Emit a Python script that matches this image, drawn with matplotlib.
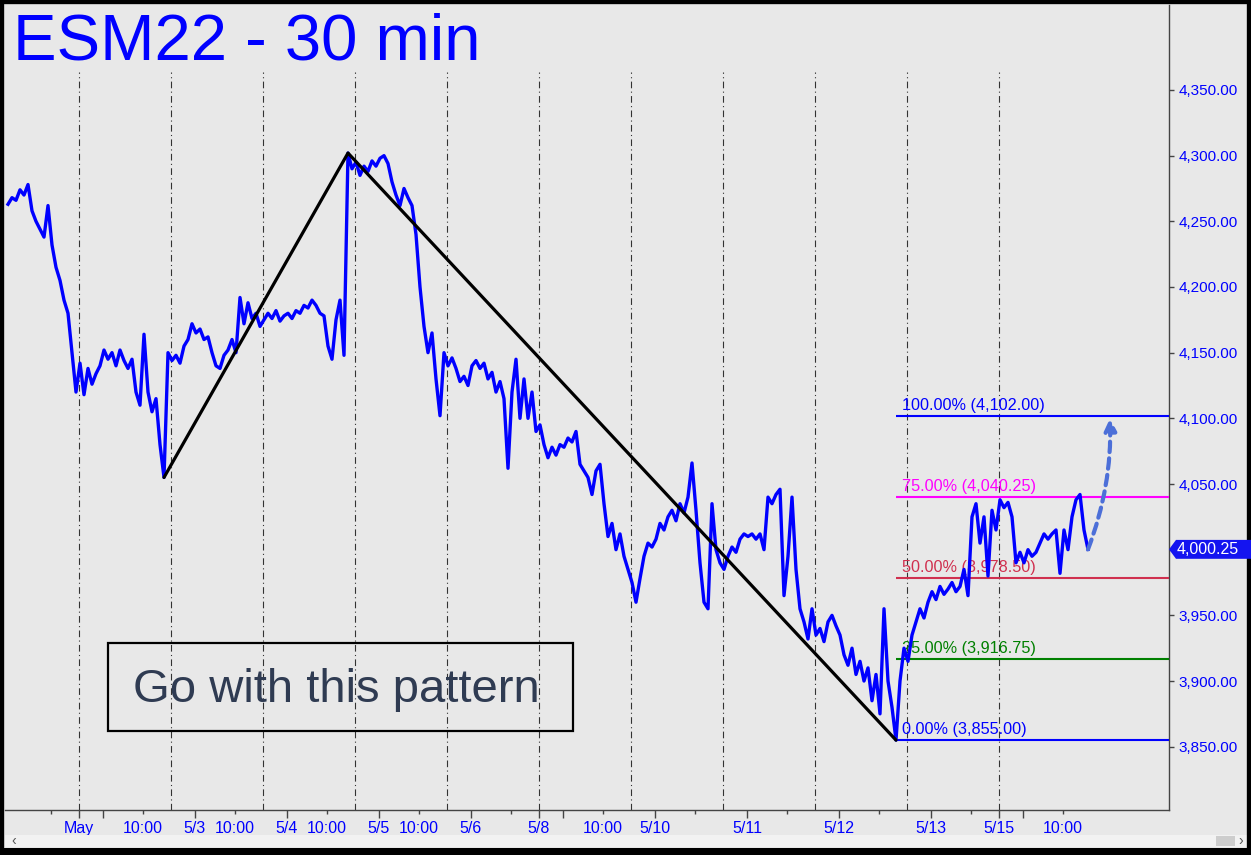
"""ESM22 30-minute chart with ABCD pattern and Fibonacci targets."""

import matplotlib.pyplot as plt
from matplotlib.patches import Polygon, Rectangle
from matplotlib.transforms import blended_transform_factory

plt.rcParams["font.family"] = ["Liberation Sans", "DejaVu Sans"]

BG = "#e8e8e8"
BLUE = "#0000ff"

# hourly closes (one value every two 30-min bars)
closes = [
    4263, 4268, 4266, 4274, 4270, 4278, 4258, 4250, 4244, 4238,
    4262, 4232, 4215, 4205, 4190, 4180, 4150, 4120, 4142, 4118,
    4138, 4126, 4134, 4140, 4152, 4145, 4150, 4140, 4152, 4144,
    4138, 4145, 4120, 4110, 4164, 4120, 4105, 4115, 4080, 4055,
    4150, 4144, 4148, 4142, 4155, 4160, 4172, 4165, 4168, 4160,
    4162, 4150, 4140, 4138, 4148, 4152, 4160, 4150, 4192, 4172,
    4188, 4176, 4180, 4170, 4175, 4180, 4176, 4182, 4174, 4178,
    4180, 4176, 4182, 4180, 4186, 4184, 4190, 4186, 4180, 4178,
    4155, 4145, 4175, 4190, 4148, 4302, 4290, 4295, 4285, 4292,
    4288, 4296, 4292, 4298, 4300, 4294, 4280, 4270, 4262, 4275,
    4268, 4262, 4240, 4200, 4170, 4150, 4165, 4130, 4102, 4150,
    4140, 4146, 4138, 4128, 4132, 4125, 4140, 4144, 4138, 4142,
    4130, 4135, 4120, 4128, 4115, 4062, 4120, 4145, 4100, 4130,
    4100, 4120, 4090, 4095, 4080, 4070, 4078, 4072, 4080, 4078,
    4085, 4082, 4090, 4065, 4060, 4055, 4042, 4060, 4065, 4035,
    4010, 4020, 4000, 4012, 3995, 3985, 3975, 3960, 3978, 3995,
    4005, 4002, 4008, 4020, 4015, 4025, 4030, 4022, 4035, 4028,
    4040, 4066, 4030, 3990, 3960, 3955, 4035, 4000, 3990, 3985,
    3995, 4002, 3998, 4008, 4012, 4010, 4012, 4008, 4012, 4000,
    4040, 4035, 4042, 4046, 3965, 3995, 4040, 3985, 3955, 3945,
    3932, 3955, 3935, 3940, 3930, 3945, 3950, 3942, 3935, 3920,
    3912, 3925, 3905, 3915, 3900, 3910, 3885, 3905, 3875, 3955,
    3900, 3880, 3855, 3900, 3925, 3915, 3935, 3945, 3955, 3948,
    3960, 3968, 3962, 3972, 3966, 3970, 3975, 3968, 3972, 3985,
    3965, 4025, 4035, 4005, 4025, 3980, 4030, 4015, 4038, 4032,
    4036, 4025, 3990, 3998, 3990, 4000, 3995, 3998, 4005, 4012,
    4008, 4012, 4015, 3982, 4015, 4000, 4025, 4038, 4042, 4015,
    4000.25,
]

# ABCD swing points (bar index, price)
swing_bars = [78, 170, 444]
swing_prices = [4055.0, 4302.0, 3855.0]

fib_pcts = ["0.00%", "25.00%", "50.00%", "75.00%", "100.00%"]
fib_levels = [3855.00, 3916.75, 3978.50, 4040.25, 4102.00]
fib_colors = ["#0000ff", "#008000", "#d0304f", "#ff00ff", "#0000ff"]

price_ticks = [3850, 3900, 3950, 4000, 4050, 4100, 4150, 4200, 4250, 4300, 4350]
last_price = 4000.25
target_price = 4100

# date labels: session number, hours after the 18:00 open, text
label_session = [0, 0, 1, 1, 2, 2, 3, 3, 4, 5, 5, 6, 7, 8, 9, 10, 10]
label_hours = [0, 16, 6, 16, 6, 16, 6, 16, 6, 0, 16, 6, 6, 6, 6, 0, 16]
label_text = ["May", "10:00", "5/3", "10:00", "5/4", "10:00", "5/5", "10:00",
              "5/6", "5/8", "10:00", "5/10", "5/11", "5/12", "5/13", "5/15", "10:00"]
n_sessions = 11

BARS_PER_SESSION = 46
FIRST_OPEN = 35.5


def bar_of(session, hours):
    return FIRST_OPEN + BARS_PER_SESSION * session + 2 * hours


bars = [2 * i for i in range(len(closes))]

fig = plt.figure(figsize=(12.51, 8.55), dpi=100, facecolor=BG)
ax = fig.add_axes([5 / 1251, 45 / 855, 1164 / 1251, 805 / 855], facecolor=BG)
ax.set_xlim(-1.5, 580.5)
ax.set_ylim(3801.8, 4414.7)

# session separators
for k in range(n_sessions):
    ax.axvline(bar_of(k, 0), ymax=0.917, color="#333333", lw=0.8,
               ls=(0, (6, 3, 1, 3)), zorder=1)

# price
ax.plot(bars, closes, color=BLUE, lw=2.4, zorder=5)

# ABCD pattern
ax.plot(swing_bars, swing_prices, color="black", lw=2.3, zorder=6,
        solid_capstyle="round")

# fib targets
for pct, lvl, col in zip(fib_pcts, fib_levels, fib_colors):
    ax.hlines(lvl, swing_bars[-1], 580.5, color=col, lw=1.5, zorder=3)
    ax.annotate(f"{pct} ({lvl:,.2f})", xy=(swing_bars[-1] + 3, lvl),
                xytext=(0, 2), textcoords="offset points", color=col,
                fontsize=11.7, va="bottom", ha="left", zorder=2)

# projected move
ax.annotate("", xy=(bars[-1] + 11, target_price), xytext=(bars[-1], last_price),
            arrowprops=dict(arrowstyle="-|>,head_length=0.7,head_width=0.35",
                            color="#4c6fd8", lw=3, linestyle=(0, (2.5, 1.5)),
                            connectionstyle="arc3,rad=0.1",
                            shrinkA=0, shrinkB=0),
            zorder=7)

# right price axis (the last-price tag hides the 4,000 label)
ax.yaxis.tick_right()
ax.set_yticks(price_ticks)
ax.set_yticklabels(["" if p == 4000 else f"{p:,.2f}" for p in price_ticks])
ax.tick_params(axis="y", colors="#444444", labelcolor=BLUE, length=3.6,
               width=1, pad=3, labelsize=11)

# time axis: long ticks at midnight / sunday open, short ticks at 10:00
major_pos, major_lab, minor_pos, minor_lab = [], [], [], []
for s, h, t in zip(label_session, label_hours, label_text):
    if h == 16:
        minor_pos.append(bar_of(s, h))
        minor_lab.append(t)
    else:
        major_pos.append(bar_of(s, h))
        major_lab.append(t)
for k in range(n_sessions):
    if not any(s == k and h == 6 for s, h in zip(label_session, label_hours)):
        major_pos.append(bar_of(k, 6))
        major_lab.append("")
for k in range(-1, n_sessions):
    if not any(s == k and h == 16 for s, h in zip(label_session, label_hours)):
        minor_pos.append(bar_of(k, 16))
        minor_lab.append("")
ax.set_xticks(major_pos, labels=major_lab)
ax.set_xticks(minor_pos, labels=minor_lab, minor=True)
ax.tick_params(axis="x", which="both", colors="#444444", labelcolor=BLUE,
               width=1, labelsize=11.5)
ax.tick_params(axis="x", which="major", length=5.5, pad=2.2)
ax.tick_params(axis="x", which="minor", length=3, pad=4.7)

for side in ("top", "left"):
    ax.spines[side].set_visible(False)
for side in ("right", "bottom"):
    ax.spines[side].set_color("#444444")
    ax.spines[side].set_linewidth(1)

# last price tag
tr = blended_transform_factory(fig.transFigure, ax.transData)
hh = 7.2
tag = Polygon([(1169 / 1251, last_price), (1176 / 1251, last_price + hh),
               (1.0, last_price + hh), (1.0, last_price - hh),
               (1176 / 1251, last_price - hh)],
              closed=True, transform=tr, facecolor="#1414f0", edgecolor="none",
              clip_on=False, zorder=8)
fig.add_artist(tag)
fig.text(1177 / 1251, last_price, f"{last_price:,.2f}", transform=tr,
         color="white", fontsize=11.5, va="center", ha="left", zorder=9)

# title and note
fig.text(13 / 1251, 1 - 59.5 / 855, "ESM22 - 30 min", color=BLUE, fontsize=47,
         va="baseline", ha="left")
fig.add_artist(Rectangle((108 / 1251, 1 - 731 / 855), 465 / 1251, 88 / 855,
                         transform=fig.transFigure, fill=False,
                         edgecolor="black", lw=1.6, zorder=4))
fig.text(336 / 1251, 1 - 702 / 855, "Go with this pattern", color="#2f3b52",
         fontsize=34, va="baseline", ha="center")

# scroll bar strip and frame
fig.add_artist(Rectangle((5 / 1251, 1 - 847 / 855), 1242 / 1251, 12 / 855,
                         transform=fig.transFigure, facecolor="#f2f2f2",
                         edgecolor="none"))
fig.add_artist(Rectangle((1216 / 1251, 1 - 846 / 855), 19 / 1251, 10 / 855,
                         transform=fig.transFigure, facecolor="#cdcdcd",
                         edgecolor="none"))
fig.text(14 / 1251, 1 - 841 / 855, "‹", color="#555555", fontsize=10,
         va="center", ha="center")
fig.text(1241 / 1251, 1 - 841 / 855, "›", color="#555555", fontsize=10,
         va="center", ha="center")
fig.add_artist(Rectangle((0, 0), 1, 1, transform=fig.transFigure, fill=False,
                         edgecolor="black", lw=6))
fig.add_artist(Rectangle((0, 0), 1, 7 / 855, transform=fig.transFigure,
                         facecolor="black", edgecolor="none"))

plt.savefig("out.png", dpi=100, facecolor=BG)
plt.close()
